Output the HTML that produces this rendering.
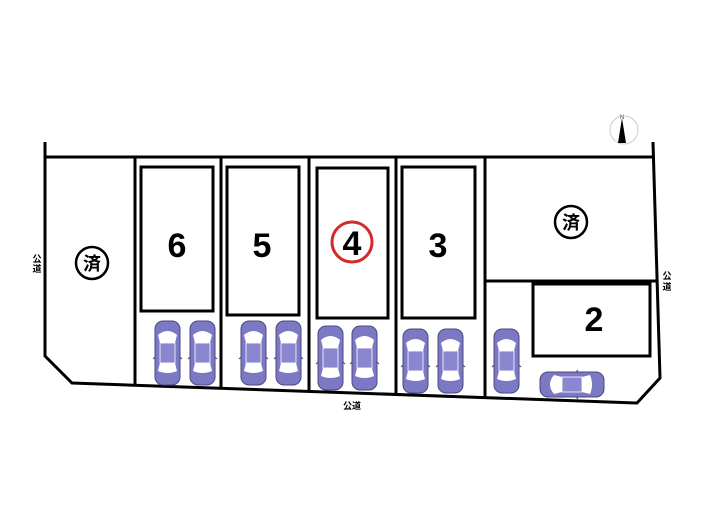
<!DOCTYPE html>
<html><head><meta charset="utf-8"><style>
html,body{margin:0;padding:0;background:#fff;}
svg{display:block;}
text{font-family:"Liberation Sans","Noto Sans CJK JP",sans-serif;}
</style></head><body>
<svg width="705" height="525" viewBox="0 0 705 525" xmlns="http://www.w3.org/2000/svg">
<defs>
<g id="car">
  <rect x="0" y="0" width="25" height="64" rx="8" fill="#7b78c4" stroke="#4a4880" stroke-width="1"/>
  <path d="M3 14 Q12.5 6 22 14 L20 22 L5 22 Z" fill="#fff"/>
  <rect x="5" y="22" width="15" height="20" fill="#8a87d0" stroke="#fff" stroke-width="0.8"/>
  <path d="M5 42 L20 42 L22 50 Q12.5 54 3 50 Z" fill="#fff"/>
  <line x1="0" y1="36" x2="-2" y2="38" stroke="#4a4880"/>
  <line x1="25" y1="36" x2="27" y2="38" stroke="#4a4880"/>
</g>
</defs>
<g fill="none" stroke="#000" stroke-width="3">
  <polyline points="45,142 45,356 72,383 637,403 660,378 653,142"/>
  <line x1="45" y1="157" x2="653" y2="157"/>
  <line x1="135" y1="157" x2="135" y2="386"/>
  <line x1="221" y1="157" x2="221" y2="389"/>
  <line x1="309" y1="157" x2="309" y2="392"/>
  <line x1="396" y1="157" x2="396" y2="395"/>
  <line x1="485" y1="157" x2="485" y2="399"/>
  <line x1="485" y1="281" x2="657" y2="281"/>
  <rect x="141" y="167" width="72" height="144"/>
  <rect x="227" y="167" width="72" height="148"/>
  <rect x="317" y="168" width="71" height="150"/>
  <rect x="402" y="167" width="73" height="151"/>
  <rect x="533" y="284" width="117" height="72"/>
</g>
<g font-size="34" font-weight="bold" text-anchor="middle" fill="#000">
  <text x="177" y="257">6</text>
  <text x="262" y="257">5</text>
  <text x="352" y="255">4</text>
  <text x="438" y="257">3</text>
  <text x="594" y="331">2</text>
</g>
<circle cx="352" cy="242" r="20" fill="none" stroke="#d42a2a" stroke-width="3"/>
<g fill="none" stroke="#000" stroke-width="2.5">
  <circle cx="92" cy="263" r="16"/>
  <circle cx="571" cy="222" r="16"/>
</g>
<g font-size="18" font-weight="bold" text-anchor="middle" fill="#000">
  <text x="92" y="270">済</text>
  <text x="571" y="229">済</text>
</g>
<g font-size="9" font-weight="bold" fill="#000" text-anchor="middle">
  <text x="37" y="262">公</text><text x="37" y="272">道</text>
  <text x="667" y="279">公</text><text x="667" y="290">道</text>
  <text x="352" y="409">公道</text>
</g>
<circle cx="624" cy="130" r="14" fill="none" stroke="#ccc" stroke-width="1"/>
<polygon points="622,118 626,143 618,143" fill="#000"/>
<text x="622" y="119" font-size="6" text-anchor="middle" fill="#555">N</text>
<use href="#car" x="155" y="321"/>
<use href="#car" x="190" y="321"/>
<use href="#car" x="241" y="321"/>
<use href="#car" x="276" y="321"/>
<use href="#car" x="318" y="326"/>
<use href="#car" x="352" y="326"/>
<use href="#car" x="403" y="329"/>
<use href="#car" x="438" y="329"/>
<use href="#car" x="494" y="329"/>
<use href="#car" transform="translate(540,397) rotate(-90)"/>
</svg>
</body></html>
